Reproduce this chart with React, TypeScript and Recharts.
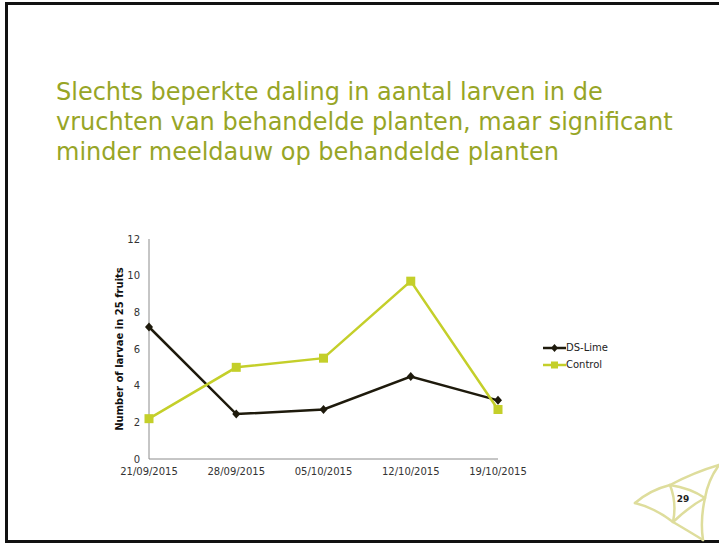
import React from 'react';
import { LineChart, Line, XAxis, YAxis } from 'recharts';

const dates = ['21/09/2015', '28/09/2015', '05/10/2015', '12/10/2015', '19/10/2015'];
const dsLime = [7.2, 2.45, 2.7, 4.5, 3.2];
const control = [2.2, 5.0, 5.5, 9.7, 2.7];
const yTicks = [0, 2, 4, 6, 8, 10, 12];

const chartData = dates.map((d, i) => ({ date: d, dsLime: dsLime[i], control: control[i] }));

const DARK = '#1e1a0c';
const LIME = '#c4cf2a';

const Diamond = (props: any) => {
  const { cx, cy } = props;
  if (cx == null || cy == null) return null;
  return <path d={`M${cx},${cy - 4.5} L${cx + 4},${cy} L${cx},${cy + 4.5} L${cx - 4},${cy} Z`} fill={DARK} />;
};

const Square = (props: any) => {
  const { cx, cy } = props;
  if (cx == null || cy == null) return null;
  return <rect x={cx - 4.5} y={cy - 4.5} width={9} height={9} fill={LIME} />;
};

// slide logo, drawn in page coordinates
const Logo = () => (
  <svg width={719} height={545} style={{ position: 'absolute', left: 0, top: 0, pointerEvents: 'none' }}>
    <g fill="none" stroke="#dedd9c" strokeWidth={2.5} strokeLinecap="round" strokeLinejoin="round">
      <path d="M635,503 Q650,490 670,485 Q695,472 719,465" />
      <path d="M719,465 Q708,480 705,498 Q700,520 703,540" />
      <path d="M635,503 Q655,508 673,522 Q690,532 703,540" />
      <path d="M670,485 Q677,503 673,522" />
      <path d="M670,485 Q690,488 705,498" />
      <path d="M673,522 Q690,506 705,498" />
    </g>
    <text x={683} y={502} textAnchor="middle" fontFamily="DejaVu Sans" fontWeight="bold" fontSize={9} fill="#222">29</text>
  </svg>
);

const renderLegend = () => (
  <div style={{ fontFamily: 'DejaVu Sans', fontSize: 10, color: '#222' }}>
    {[
      { name: 'DS-Lime', color: DARK, shape: 'diamond' },
      { name: 'Control', color: LIME, shape: 'square' },
    ].map((item) => (
      <div key={item.name} style={{ display: 'flex', alignItems: 'center', height: 17 }}>
        <svg width={23} height={10}>
          <line x1={0} y1={5} x2={23} y2={5} stroke={item.color} strokeWidth={2.5} />
          {item.shape === 'diamond' ? (
            <path d="M11.5,1 L15,5 L11.5,9 L8,5 Z" fill={item.color} />
          ) : (
            <rect x={8} y={1.5} width={7} height={7} fill={item.color} />
          )}
        </svg>
        <span>{item.name}</span>
      </div>
    ))}
  </div>
);

export default function App() {
  return (
    <div style={{ position: 'absolute', left: 0, top: 0, width: 719, height: 545, background: '#fff', overflow: 'hidden' }}>
      <div
        style={{
          position: 'absolute',
          left: 5,
          top: 2,
          width: 730,
          height: 541,
          border: '3px solid #111',
          borderRight: 'none',
          boxSizing: 'border-box',
        }}
      />
      <div
        style={{
          position: 'absolute',
          left: 56,
          top: 77,
          fontFamily: 'DejaVu Sans',
          fontSize: 24,
          lineHeight: '30px',
          color: '#97a526',
          whiteSpace: 'nowrap',
        }}
      >
        Slechts beperkte daling in aantal larven in de
        <br />
        vruchten van behandelde planten, maar significant
        <br />
        minder meeldauw op behandelde planten
      </div>
      <div style={{ position: 'absolute', left: 60, top: 220 }}>
        <LineChart width={640} height={290} data={chartData} margin={{ top: 19, right: 202, bottom: 21, left: 0 }}>
          <XAxis
            dataKey="date"
            scale="point"
            padding={{ left: 0, right: 0 }}
            interval={0}
            tickLine={false}
            tickSize={0}
            tickMargin={9}
            stroke="#8c8c8c"
            tick={{ fill: '#333', fontSize: 10, fontFamily: 'DejaVu Sans' }}
            height={30}
          />
          <YAxis
            domain={[0, 12]}
            ticks={yTicks}
            interval={0}
            tickLine={false}
            tickSize={0}
            tickMargin={9}
            width={89}
            stroke="#8c8c8c"
            tick={{ fill: '#333', fontSize: 10, fontFamily: 'DejaVu Sans' }}
            label={{
              value: 'Number of larvae in 25 fruits',
              angle: -90,
              position: 'center',
              dx: 15,
              style: { fontFamily: 'DejaVu Sans', fontWeight: 'bold', fontSize: 10, fill: '#111' },
            }}
          />
          <Line
            dataKey="dsLime"
            name="DS-Lime"
            stroke={DARK}
            strokeWidth={2.5}
            dot={<Diamond />}
            isAnimationActive={false}
          />
          <Line
            dataKey="control"
            name="Control"
            stroke={LIME}
            strokeWidth={2.5}
            dot={<Square />}
            isAnimationActive={false}
          />
        </LineChart>
        <div style={{ position: 'absolute', left: 483, top: 119 }}>{renderLegend()}</div>
      </div>
      <Logo />
    </div>
  );
}
